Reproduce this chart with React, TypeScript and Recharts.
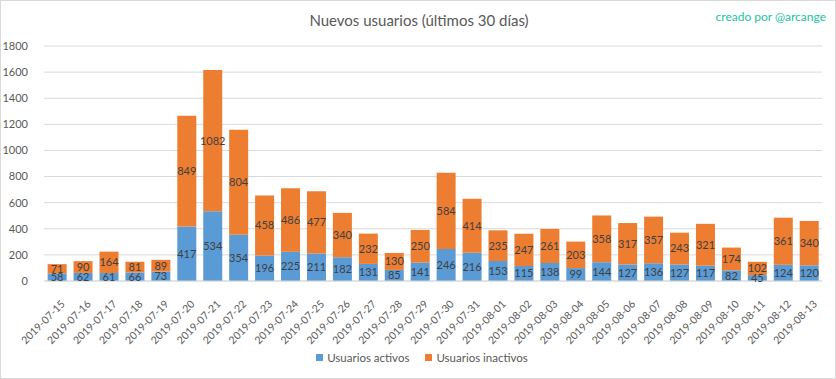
import React from 'react';
import {
  BarChart,
  Bar,
  XAxis,
  YAxis,
  CartesianGrid,
  LabelList,
} from 'recharts';

const fechas = [
  '2019-07-15', '2019-07-16', '2019-07-17', '2019-07-18', '2019-07-19',
  '2019-07-20', '2019-07-21', '2019-07-22', '2019-07-23', '2019-07-24',
  '2019-07-25', '2019-07-26', '2019-07-27', '2019-07-28', '2019-07-29',
  '2019-07-30', '2019-07-31', '2019-08-01', '2019-08-02', '2019-08-03',
  '2019-08-04', '2019-08-05', '2019-08-06', '2019-08-07', '2019-08-08',
  '2019-08-09', '2019-08-10', '2019-08-11', '2019-08-12', '2019-08-13',
];

const activos = [
  58, 62, 61, 66, 73, 417, 534, 354, 196, 225, 211, 182, 131, 85, 141,
  246, 216, 153, 115, 138, 99, 144, 127, 136, 127, 117, 82, 45, 124, 120,
];

const inactivos = [
  71, 90, 164, 81, 89, 849, 1082, 804, 458, 486, 477, 340, 232, 130, 250,
  584, 414, 235, 247, 261, 203, 358, 317, 357, 243, 321, 174, 102, 361, 340,
];

const yTicks = [0, 200, 400, 600, 800, 1000, 1200, 1400, 1600, 1800];

const series = [
  { key: 'activos', name: 'Usuarios activos', color: '#5b9bd5' },
  { key: 'inactivos', name: 'Usuarios inactivos', color: '#ed7d31' },
];

const FONT = 'Lato, "Liberation Sans", sans-serif';
const TEXT = '#595959';

const data = fechas.map((f, i) => ({
  fecha: f,
  activos: activos[i],
  inactivos: inactivos[i],
}));

function DateTick(props: any) {
  const { x, y, payload } = props;
  return (
    <g transform={`translate(${x + 3},${y + 10})`}>
      <text
        x={0}
        y={0}
        textAnchor="end"
        dominantBaseline="hanging"
        transform="rotate(-45)"
        fill={TEXT}
        fontSize={10.5}
        fontFamily={FONT}
      >
        {payload.value}
      </text>
    </g>
  );
}

export default function App() {
  return (
    <div
      style={{
        position: 'absolute',
        left: 0,
        top: 0,
        width: 836,
        height: 379,
        background: '#fff',
        boxSizing: 'border-box',
        border: '1px solid #d9d9d9',
        fontFamily: FONT,
      }}
    >
      <div
        style={{
          position: 'absolute',
          left: 0,
          width: 836,
          top: 10,
          textAlign: 'center',
          fontSize: 15,
          color: TEXT,
        }}
      >
        Nuevos usuarios (últimos 30 días)
      </div>
      <div
        style={{
          position: 'absolute',
          right: 9,
          top: 8,
          fontSize: 12,
          color: '#22c4a0',
        }}
      >
        creado por @arcange
      </div>
      <div style={{ position: 'absolute', left: -1, top: -1 }}>
        <BarChart
          width={836}
          height={379}
          data={data}
          barCategoryGap="14%"
          margin={{ top: 46, right: 14, left: 0, bottom: 40 }}
        >
          <CartesianGrid vertical={false} stroke="#d9d9d9" />
          <XAxis
            dataKey="fecha"
            interval={0}
            height={58}
            tick={<DateTick />}
            tickLine={false}
            axisLine={{ stroke: '#d9d9d9' }}
          />
          <YAxis
            width={44}
            domain={[0, 1800]}
            ticks={yTicks}
            tickLine={false}
            axisLine={false}
            tick={{ fill: TEXT, fontSize: 11, fontFamily: FONT }}
            tickMargin={10}
          />
          {series.map((s) => (
            <Bar
              key={s.key}
              dataKey={s.key}
              name={s.name}
              stackId="a"
              fill={s.color}
              isAnimationActive={false}
            >
              <LabelList
                dataKey={s.key}
                position="center"
                fill="#404040"
                fontSize={11}
                fontFamily={FONT}
              />
            </Bar>
          ))}
        </BarChart>
      </div>
      {/* leyenda */}
      <div
        style={{
          position: 'absolute',
          left: 0,
          width: 836,
          top: 350,
          display: 'flex',
          justifyContent: 'center',
          gap: 16,
          paddingLeft: 6,
          boxSizing: 'border-box',
          fontSize: 11.5,
          color: TEXT,
        }}
      >
        {series.map((s) => (
          <div key={s.key} style={{ display: 'flex', alignItems: 'center' }}>
            <span
              style={{
                display: 'inline-block',
                width: 7,
                height: 7,
                background: s.color,
                marginRight: 4,
              }}
            />
            <span>{s.name}</span>
          </div>
        ))}
      </div>
    </div>
  );
}
